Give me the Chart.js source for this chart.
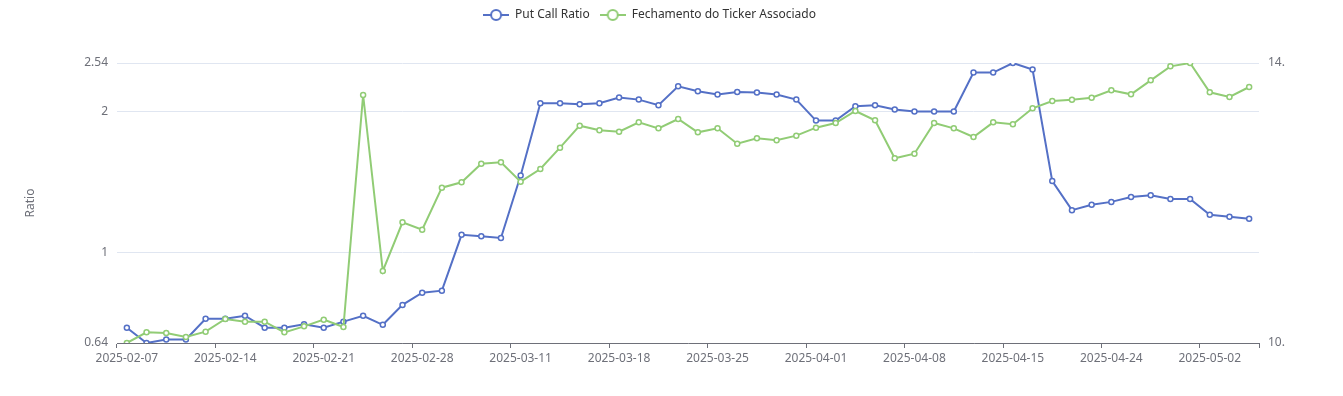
<!DOCTYPE html>
<html><head><meta charset="utf-8">
<script src="https://cdn.jsdelivr.net/npm/chart.js@4"></script>
<style>html,body{margin:0;padding:0;background:#fff}</style>
</head><body>
<canvas id="c" width="1343" height="396"></canvas>
<script>
const categories = [
  '2025-02-07','2025-02-10','2025-02-11','2025-02-12','2025-02-13','2025-02-14','2025-02-17','2025-02-18','2025-02-19','2025-02-20',
  '2025-02-21','2025-02-24','2025-02-25','2025-02-26','2025-02-27','2025-02-28','2025-03-05','2025-03-06','2025-03-07','2025-03-10',
  '2025-03-11','2025-03-12','2025-03-13','2025-03-14','2025-03-17','2025-03-18','2025-03-19','2025-03-20','2025-03-21','2025-03-24',
  '2025-03-25','2025-03-26','2025-03-27','2025-03-28','2025-03-31','2025-04-01','2025-04-02','2025-04-03','2025-04-04','2025-04-07',
  '2025-04-08','2025-04-09','2025-04-10','2025-04-11','2025-04-14','2025-04-15','2025-04-16','2025-04-17','2025-04-22','2025-04-23',
  '2025-04-24','2025-04-25','2025-04-28','2025-04-29','2025-04-30','2025-05-02','2025-05-05','2025-05-06'
];
const putCallRatio = [
  0.69, 0.64, 0.651, 0.651, 0.721, 0.721, 0.732, 0.69, 0.69, 0.702,
  0.69, 0.711, 0.732, 0.700, 0.772, 0.820, 0.828, 1.090, 1.083, 1.073,
  1.460, 2.083, 2.083, 2.073, 2.083, 2.142, 2.121, 2.063, 2.265, 2.210,
  2.175, 2.203, 2.196, 2.175, 2.121, 1.913, 1.913, 2.053, 2.063, 2.020,
  2.0, 2.0, 2.0, 2.423, 2.423, 2.54, 2.459, 1.420, 1.231, 1.264,
  1.282, 1.313, 1.324, 1.301, 1.301, 1.203, 1.191, 1.180
];
const tickerClose = [
  10.30, 10.46, 10.45, 10.39, 10.47, 10.66, 10.62, 10.62, 10.46, 10.55,
  10.65, 10.54, 14.02, 11.38, 12.11, 12.00, 12.63, 12.71, 12.99, 13.01,
  12.72, 12.91, 13.23, 13.56, 13.49, 13.47, 13.61, 13.52, 13.66, 13.46,
  13.52, 13.29, 13.37, 13.34, 13.41, 13.53, 13.60, 13.78, 13.64, 13.07,
  13.14, 13.60, 13.52, 13.39, 13.61, 13.58, 13.82, 13.93, 13.95, 13.98,
  14.09, 14.03, 14.24, 14.45, 14.50, 14.06, 13.99, 14.14
];
const ratioTicks = [0.64, 1, 2, 2.54];
const closeTicks = [10.30, 14.50];
const seriesNames = ['Put Call Ratio', 'Fechamento do Ticker Associado'];
const seriesColors = ['#5470C6', '#91CC75'];

const axisColor = '#6E7079';
Chart.defaults.font.family = "'Noto Sans', sans-serif";
Chart.defaults.font.size = 12;

function makeIcon(color) {
  const c = document.createElement('canvas');
  c.width = 26; c.height = 14;
  const g = c.getContext('2d');
  g.strokeStyle = color; g.lineWidth = 2;
  g.beginPath(); g.moveTo(0, 7); g.lineTo(26, 7); g.stroke();
  g.beginPath(); g.arc(13, 7, 5, 0, Math.PI * 2); g.fillStyle = '#fff'; g.fill(); g.stroke();
  return c;
}
const icons = seriesColors.map(makeIcon);

const layoutTweak = {
  id: 'layoutTweak',
  afterInit(chart) {
    const lg = chart.legend;
    const fit = lg.fit.bind(lg);
    lg.fit = function () { fit(); this.height = 63; };
  },
  afterLayout(chart) {
    const lg = chart.legend;
    lg.left -= 22; lg.right -= 22;
    lg.top -= 1; lg.bottom -= 1;
  }
};

const showTick = ctx => (ctx.index === undefined || ctx.index % 5 === 0) ? axisColor : 'rgba(0,0,0,0)';

new Chart(document.getElementById('c'), {
  type: 'line',
  data: {
    labels: categories,
    datasets: [
      {
        label: seriesNames[0], data: putCallRatio, yAxisID: 'y', order: 1,
        borderColor: seriesColors[0], backgroundColor: '#fff', borderWidth: 2,
        pointRadius: 2.5, pointBorderWidth: 1.5, pointBackgroundColor: '#fff', pointBorderColor: seriesColors[0],
        tension: 0
      },
      {
        label: seriesNames[1], data: tickerClose, yAxisID: 'y1', order: 0,
        borderColor: seriesColors[1], backgroundColor: '#fff', borderWidth: 2,
        pointRadius: 2.5, pointBorderWidth: 1.5, pointBackgroundColor: '#fff', pointBorderColor: seriesColors[1],
        tension: 0
      }
    ]
  },
  options: {
    responsive: false,
    animation: false,
    layout: { padding: 0 },
    plugins: {
      tooltip: { enabled: false },
      legend: {
        position: 'top',
        labels: {
          usePointStyle: true, pointStyleWidth: 26, padding: 10, color: '#333',
          font: { size: 12 },
          generateLabels(chart) {
            const items = Chart.defaults.plugins.legend.labels.generateLabels(chart);
            items.sort((a, b) => a.datasetIndex - b.datasetIndex);
            items.forEach(it => { it.pointStyle = icons[it.datasetIndex]; });
            return items;
          }
        }
      }
    },
    scales: {
      x: {
        type: 'category', offset: true,
        grid: { display: true, offset: true, drawOnChartArea: false, drawTicks: true, tickLength: 5, color: showTick, tickColor: showTick },
        border: { display: true, color: axisColor, width: 1 },
        ticks: { autoSkip: false, maxRotation: 0, minRotation: 0, padding: 3, color: axisColor,
                 callback: (v, i) => (i % 5 === 0 ? categories[i] : '') },
        afterFit: s => { s.height = 53; }
      },
      y: {
        type: 'logarithmic', position: 'left', bounds: 'data',
        min: ratioTicks[0], max: ratioTicks[ratioTicks.length - 1],
        afterBuildTicks: s => {
          s.min = ratioTicks[0]; s.max = ratioTicks[ratioTicks.length - 1];
          s.ticks = ratioTicks.map(v => ({ value: v }));
        },
        ticks: { callback: v => String(v), color: axisColor, padding: 9 },
        grid: { color: '#E0E6F1', drawTicks: false },
        border: { display: false },
        title: { display: true, text: 'Ratio', color: axisColor, font: { size: 12 }, padding: { top: 23, bottom: 0 } },
        afterFit: s => { s.width = 117; }
      },
      y1: {
        type: 'linear', position: 'right', bounds: 'data', min: closeTicks[0], max: closeTicks[1],
        afterBuildTicks: s => {
          s.min = closeTicks[0]; s.max = closeTicks[1];
          s.ticks = closeTicks.map(v => ({ value: v }));
        },
        ticks: { callback: v => Math.floor(v) + '.', color: axisColor, padding: 9 },
        grid: { display: false, drawTicks: false },
        border: { display: false },
        afterFit: s => { s.width = 84; }
      }
    }
  },
  plugins: [layoutTweak]
});
</script>
</body></html>
